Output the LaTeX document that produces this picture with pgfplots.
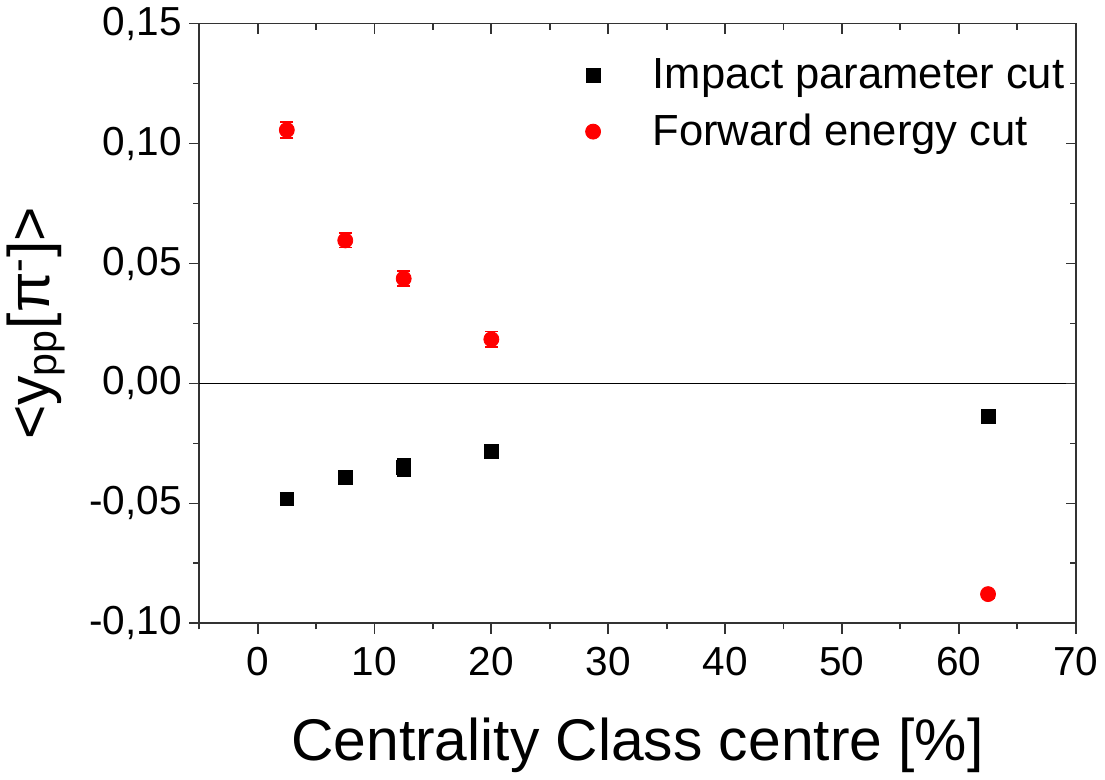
\documentclass[border=0pt]{standalone}
\usepackage{fontspec}
\setmainfont{Liberation Sans}
\usepackage{pgfplots}
\pgfplotsset{compat=1.18}

\pgfplotstableread{
x     y       e
2.5   -0.0481 0.0025
7.5   -0.0393 0.0025
12.5  -0.0350 0.0036
20    -0.0283 0.0022
62.5  -0.0139 0.0015
}\impact
\pgfplotstableread{
x     y       e
2.5   0.1056  0.0034
7.5   0.0596  0.0030
12.5  0.0437  0.0032
20    0.0184  0.0032
62.5  -0.0878 0.0015
}\forward

\begin{document}
\begin{tikzpicture}
\pgfplotsset{
  frame/.style={
    scale only axis, width=432.5pt, height=296pt,
    xmin=-5, xmax=70, ymin=-0.10, ymax=0.15,
    xtick={0,10,...,70}, minor xtick={-5,5,...,65},
    ytick={-0.10,-0.05,0,0.05,0.10,0.15}, minor ytick={-0.075,-0.025,0.025,0.075,0.125},
    axis line style={line width=0.9pt, black!80},
    major tick style={line width=0.9pt, black!80},
    minor tick style={line width=0.9pt, black!80},
    major tick length=5pt, minor tick length=3pt,
  }
}
\begin{axis}[frame,
  tick align=outside, xtick pos=bottom, ytick pos=left,
  /pgf/number format/assume math mode=true,
  yticklabel style={/pgf/number format/.cd, use comma, fixed, fixed zerofill, precision=2},
  ticklabel style={font=\fontsize{20}{24}\selectfont},
  xticklabel style={yshift=-3pt},
  xlabel={Centrality Class centre [\%]},
  xlabel style={font=\fontsize{29}{34}\selectfont, yshift=-14pt},
  ylabel={<y\textsubscript{pp}[π\textsuperscript{-}]>},
  ylabel style={font=\fontsize{29}{34}\selectfont, yshift=5pt},
  legend style={draw=none, fill=none, at={(0.999,0.955)}, anchor=north east,
    font=\fontsize{21.5}{25}\selectfont, row sep=7pt},
  legend cell align=left,
  legend image code/.code={\draw[#1] plot coordinates {(0.3cm,0cm)};},
]
\addplot[black, forget plot, line width=0.7pt] coordinates {(-5,0) (70,0)};
\addplot[only marks, mark=square*, mark size=3.4pt, black,
  error bars/.cd, y dir=both, y explicit,
  error mark options={rotate=90, mark size=3.4pt, line width=0.8pt}]
  table[x=x, y=y, y error=e] {\impact};
\addlegendentry{\hspace{1.1em}Impact parameter cut}
\addplot[only marks, mark=*, mark size=3.7pt, red, mark options={fill=red, draw=red},
  error bars/.cd, y dir=both, y explicit,
  error mark options={rotate=90, mark size=3.2pt, line width=0.8pt, red}]
  table[x=x, y=y, y error=e] {\forward};
\addlegendentry{\hspace{1.1em}Forward energy cut}
\end{axis}
\begin{axis}[frame,
  tick align=inside, xtick pos=top, ytick pos=right,
  xticklabels={}, yticklabels={}, axis line style={draw=none},
]
\end{axis}
\end{tikzpicture}
\end{document}
